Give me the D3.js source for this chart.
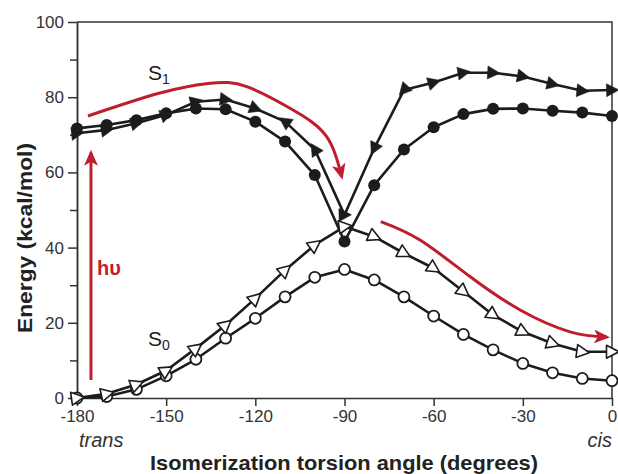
<!DOCTYPE html>
<html>
<head>
<meta charset="utf-8">
<script src="https://cdn.jsdelivr.net/npm/d3@7/dist/d3.min.js"></script>
<style>
  body { margin: 0; background: #fff; }
  svg { display: block; font-family: "Liberation Sans", Arial, Helvetica, sans-serif; }
</style>
</head>
<body>
<div class="graphContainer"></div>
<script>
// size and margins
const w = 618;
const h = 474;
const m = { top: 22, right: 6, bottom: 76, left: 77 };

// torsion angles (degrees)
const angles = [-180, -170, -160, -150, -140, -130, -120, -110, -100, -90,
                -80, -70, -60, -50, -40, -30, -20, -10, 0];

// energies (kcal/mol)
const s1Circles = [71.7, 72.6, 73.9, 75.7, 77.0, 76.8, 73.5, 68.2, 59.3, 41.6,
                   56.6, 66.1, 72.0, 75.5, 76.9, 77.0, 76.4, 75.9, 75.0];
const s1Triangles = [70.4, 71.3, 73.1, 75.3, 78.8, 79.4, 77.0, 73.5, 66.1, 48.7,
                     66.4, 81.9, 83.9, 86.5, 86.5, 85.5, 83.5, 81.7, 81.9];
const s0Triangles = [0, 1.1, 3.6, 7.3, 13.2, 19.4, 26.5, 34.0, 40.7, 45.6,
                     42.9, 38.5, 34.5, 28.3, 22.1, 17.6, 14.5, 12.3, 12.3];
const s0Circles = [0, 0.4, 2.3, 5.9, 10.3, 15.9, 21.2, 26.9, 32.1, 34.2,
                   31.4, 26.9, 21.8, 16.9, 12.8, 9.2, 6.7, 5.2, 4.6];

// ticks
const xTicks = [-180, -150, -120, -90, -60, -30, 0];
const yTicks = [0, 20, 40, 60, 80, 100];
const yMinor = [10, 30, 50, 70, 90];

// red arrows, in data units [deg, kcal]
const arrowExcite = [[-175.3, 4.8], [-175.3, 65.2]];
const arrowS1 = [[-176.3, 75.0], [-152.1, 81.1], [-135.2, 83.7], [-122.9, 82.8],
                 [-107.3, 76.6], [-96.0, 69.5], [-90.9, 58.8]];
const arrowS0 = [[-77.8, 46.9], [-64.6, 42.0], [-47.8, 32.3], [-30.9, 23.4],
                 [-14.1, 17.6], [-1.7, 16.2]];

const ink = "#1c1c1c";
const red = "#be1e2d";

const svg = d3.select(".graphContainer").append("svg")
  .attr("width", w)
  .attr("height", h);

const xScale = d3.scaleLinear().domain([-180, 0]).range([m.left, w - m.right]);
const yScale = d3.scaleLinear().domain([0, 100]).range([h - m.bottom, m.top]);

// frame: top and right lines
svg.append("path")
  .attr("d", `M${xScale(-180)},${yScale(100)}H${xScale(0)}V${yScale(0)}`)
  .attr("fill", "none")
  .attr("stroke", "#333")
  .attr("stroke-width", 1.5);

// axes (plain hyphen for negatives, like the original)
const xAxis = d3.axisBottom(xScale).tickValues(xTicks).tickSize(8).tickPadding(4)
  .tickSizeOuter(0).tickFormat(d => String(d));
const yAxis = d3.axisLeft(yScale).tickValues(yTicks).tickSize(9).tickPadding(4)
  .tickSizeOuter(0).tickFormat(d => String(d));
const yAxisMinor = d3.axisLeft(yScale).tickValues(yMinor).tickSize(7).tickFormat("").tickSizeOuter(0);

function styleAxis(g) {
  g.selectAll("path, line").attr("stroke", "#333").attr("stroke-width", 1.5);
  g.selectAll("text").attr("fill", "#333").style("font-size", "17px")
    .style("font-family", "'Liberation Sans', Arial, sans-serif");
}

svg.append("g").attr("transform", `translate(0,${yScale(0)})`).call(xAxis).call(styleAxis);
svg.append("g").attr("transform", `translate(${xScale(-180)},0)`).call(yAxis).call(styleAxis);
svg.append("g").attr("transform", `translate(${xScale(-180)},0)`).call(yAxisMinor).call(styleAxis);

// axis titles
svg.append("text")
  .attr("x", 344).attr("y", 470)
  .attr("text-anchor", "middle")
  .attr("font-weight", "bold").attr("font-size", 21)
  .attr("fill", "#222")
  .attr("textLength", 388).attr("lengthAdjust", "spacingAndGlyphs")
  .text("Isomerization torsion angle (degrees)");

svg.append("text")
  .attr("transform", "translate(32,238) rotate(-90)")
  .attr("text-anchor", "middle")
  .attr("font-weight", "bold").attr("font-size", 21)
  .attr("fill", "#222")
  .attr("textLength", 190).attr("lengthAdjust", "spacingAndGlyphs")
  .text("Energy (kcal/mol)");

svg.append("text")
  .attr("x", xScale(-180) + 2).attr("y", 447)
  .attr("font-style", "italic").attr("font-size", 20).attr("fill", "#333")
  .text("trans");
svg.append("text")
  .attr("x", xScale(0)).attr("y", 447)
  .attr("text-anchor", "end")
  .attr("font-style", "italic").attr("font-size", 20).attr("fill", "#333")
  .text("cis");

// red arrows
const defs = svg.append("defs");
defs.append("marker")
  .attr("id", "head")
  .attr("markerUnits", "userSpaceOnUse")
  .attr("viewBox", "0 0 16 14")
  .attr("refX", 13).attr("refY", 7)
  .attr("markerWidth", 16).attr("markerHeight", 14)
  .attr("orient", "auto")
  .append("path")
  .attr("d", "M0,0 L16,7 L0,14 L4,7 Z")
  .attr("fill", red);

const arrowLine = d3.line()
  .x(d => xScale(d[0]))
  .y(d => yScale(d[1]))
  .curve(d3.curveNatural);

[arrowExcite, arrowS1, arrowS0].forEach(pts => {
  svg.append("path")
    .attr("d", arrowLine(pts))
    .attr("fill", "none")
    .attr("stroke", red)
    .attr("stroke-width", 3)
    .attr("marker-end", "url(#head)");
});

// series
const series = [
  { vals: s0Circles, shape: "circle", filled: false },
  { vals: s0Triangles, shape: "tri", filled: false },
  { vals: s1Circles, shape: "circle", filled: true },
  { vals: s1Triangles, shape: "tri", filled: true }
];

const line = d3.line()
  .x((d, i) => xScale(angles[i]))
  .y(d => yScale(d));

series.forEach(s => {
  svg.append("path")
    .attr("d", line(s.vals))
    .attr("fill", "none")
    .attr("stroke", ink)
    .attr("stroke-width", 2.6)
    .attr("stroke-linejoin", "round");
});

// triangle points along the line; steep filled ones are turned round
function triAngle(vals, i, flip) {
  const a = Math.max(i - 1, 0), b = Math.min(i + 1, vals.length - 1);
  const dx = xScale(angles[b]) - xScale(angles[a]);
  const dy = yScale(vals[b]) - yScale(vals[a]);
  let ang = Math.atan2(dy, dx) * 180 / Math.PI;
  if (flip && Math.abs(ang) > 30) ang += 180;
  return ang;
}

series.forEach(s => {
  const g = svg.append("g");
  s.vals.forEach((v, i) => {
    const cx = xScale(angles[i]), cy = yScale(v);
    if (s.shape === "circle") {
      g.append("circle")
        .attr("cx", cx).attr("cy", cy)
        .attr("r", s.filled ? 6 : 5.5)
        .attr("fill", s.filled ? ink : "#fff")
        .attr("stroke", ink)
        .attr("stroke-width", s.filled ? 0 : 1.8);
    } else {
      g.append("path")
        .attr("d", "M7,0 L-5.5,-6.5 L-5.5,6.5 Z")
        .attr("transform", `translate(${cx},${cy}) rotate(${triAngle(s.vals, i, s.filled)})`)
        .attr("fill", s.filled ? ink : "#fff")
        .attr("stroke", ink)
        .attr("stroke-width", s.filled ? 0.5 : 1.6)
        .attr("stroke-linejoin", "round");
    }
  });
});

// labels
const s1 = svg.append("text").attr("x", 148).attr("y", 80).attr("font-size", 21).attr("fill", ink);
s1.append("tspan").text("S");
s1.append("tspan").attr("font-size", 14).attr("dy", 4).text("1");

const s0 = svg.append("text").attr("x", 148).attr("y", 346).attr("font-size", 21).attr("fill", ink);
s0.append("tspan").text("S");
s0.append("tspan").attr("font-size", 14).attr("dy", 4).text("0");

svg.append("text")
  .attr("x", 97).attr("y", 275)
  .attr("font-size", 20).attr("font-weight", "bold")
  .attr("fill", red)
  .text("hυ");
</script>
</body>
</html>
